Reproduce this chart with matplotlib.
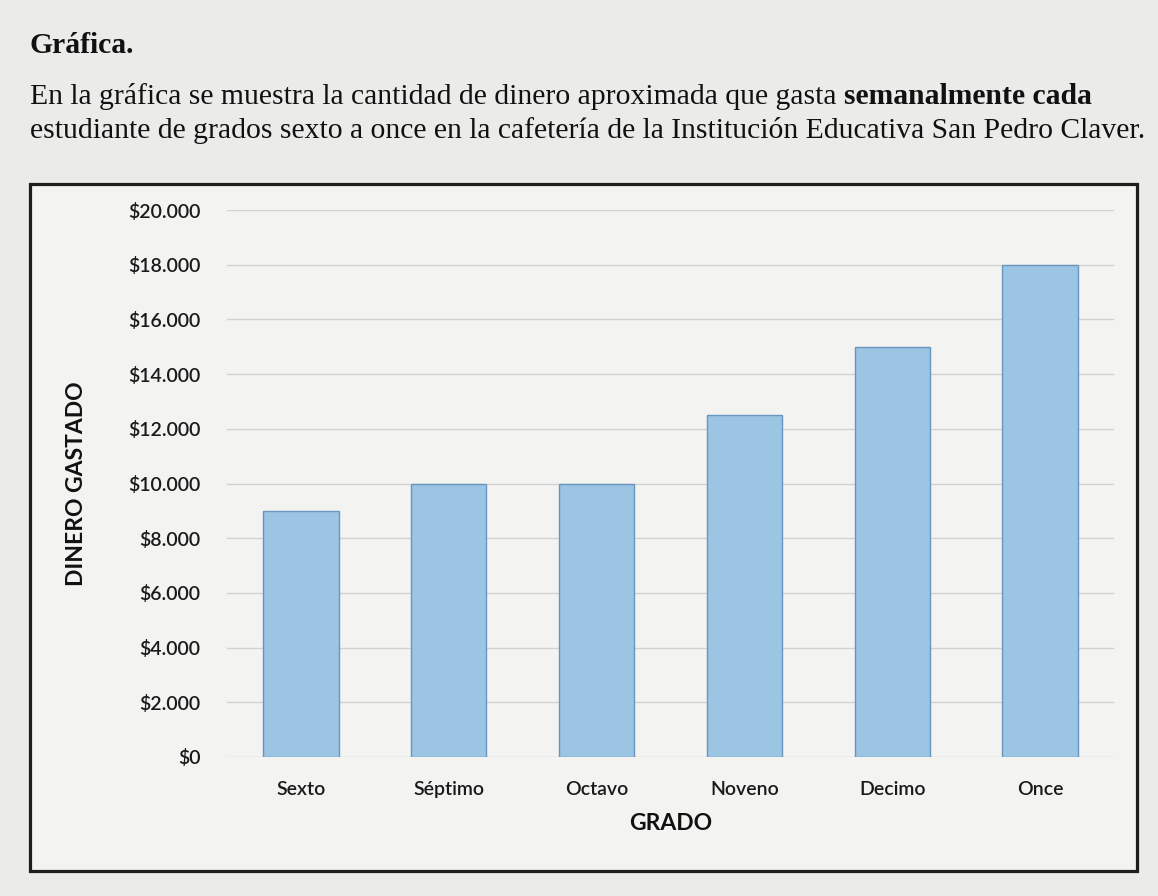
import matplotlib
matplotlib.use("Agg")
import matplotlib.pyplot as plt
from matplotlib.patches import Rectangle
from matplotlib.ticker import FuncFormatter, MultipleLocator

# ---- data ----
grados = ["Sexto", "Séptimo", "Octavo", "Noveno", "Decimo", "Once"]
gasto = [9000, 10000, 10000, 12500, 15000, 18000]
y_max = 20000
y_step = 2000

titulo = "Gráfica."
linea1_normal = "En la gráfica se muestra la cantidad de dinero aproximada que gasta "
linea1_negrita = "semanalmente cada"
linea2 = "estudiante de grados sexto a once en la cafetería de la Institución Educativa San Pedro Claver."
ylabel = "DINERO GASTADO"
xlabel = "GRADO"

W, H = 1158, 896
fig = plt.figure(figsize=(W / 100, H / 100), dpi=100)
fig.patch.set_facecolor("#ebebe9")

def fx(px):
    return px / W

def fy(py):
    return 1 - py / H

# chart frame
frame = Rectangle((fx(30), fy(871)), fx(1137) - fx(30), fy(184) - fy(871),
                  transform=fig.transFigure, facecolor="#f3f3f1",
                  edgecolor="#1e1e1e", linewidth=2.3, zorder=-1)
fig.patches.append(frame)

serif = ["Liberation Serif", "DejaVu Serif"]
sans = ["Lato", "DejaVu Sans"]
renderer = fig.canvas.get_renderer()

# fit header font size to line 2 width
probe = fig.text(0, 0, linea2, fontsize=20, family=serif)
w20 = probe.get_window_extent(renderer).width
probe.remove()
fs = 20 * (1115 / w20)

fig.text(fx(30), fy(53), titulo, fontsize=fs, family=serif, weight="bold",
         color="#111111", va="baseline")
t1 = fig.text(fx(30), fy(104), linea1_normal, fontsize=fs, family=serif,
              color="#111111", va="baseline")
ext = t1.get_window_extent(renderer)
fig.text(ext.x1 / W, fy(104), linea1_negrita, fontsize=fs, family=serif,
         weight="bold", color="#111111", va="baseline")
fig.text(fx(30), fy(138), linea2, fontsize=fs, family=serif,
         color="#111111", va="baseline")

# axes
left, right, bottom, top = 227, 1114, 757, 210
ax = fig.add_axes([fx(left), fy(bottom), fx(right) - fx(left), fy(top) - fy(bottom)])
ax.set_zorder(2)
ax.set_facecolor("none")
x = range(len(grados))
ax.bar(x, gasto, width=0.51, color="#9bc5e3", edgecolor="#6797c0",
       linewidth=1.0, zorder=3)
ax.set_xlim(-0.5, len(grados) - 0.5)
ax.set_ylim(0, y_max)
ax.yaxis.set_major_locator(MultipleLocator(y_step))
ax.yaxis.set_major_formatter(FuncFormatter(lambda v, p: "$" + f"{v:,.0f}".replace(",", ".")))
ax.set_xticks(list(x))
ax.set_xticklabels(grados)
ax.set_axisbelow(True)
ax.grid(axis="y", color="#d2d2d2", linewidth=1.0)
for s in ax.spines.values():
    s.set_visible(False)
ax.tick_params(axis="both", length=0)
ax.tick_params(axis="y", pad=19, labelsize=14, labelcolor="#1a1a1a")
ax.tick_params(axis="x", pad=17, labelsize=14, labelcolor="#1a1a1a")
for lab in ax.get_xticklabels() + ax.get_yticklabels():
    lab.set_family(sans)
    lab.set_weight("semibold")

ax.set_ylabel(ylabel, fontsize=16.5, family=sans, weight="bold", color="#111111")
ax.yaxis.set_label_coords(-0.170, 0.5)
ax.set_xlabel(xlabel, fontsize=16.5, family=sans, weight="bold", color="#111111")
ax.xaxis.set_label_coords(0.5, -0.121)
ax.xaxis.label.set_va("center")
ax.yaxis.label.set_va("center")

fig.savefig("out.png", dpi=100, facecolor=fig.get_facecolor())
